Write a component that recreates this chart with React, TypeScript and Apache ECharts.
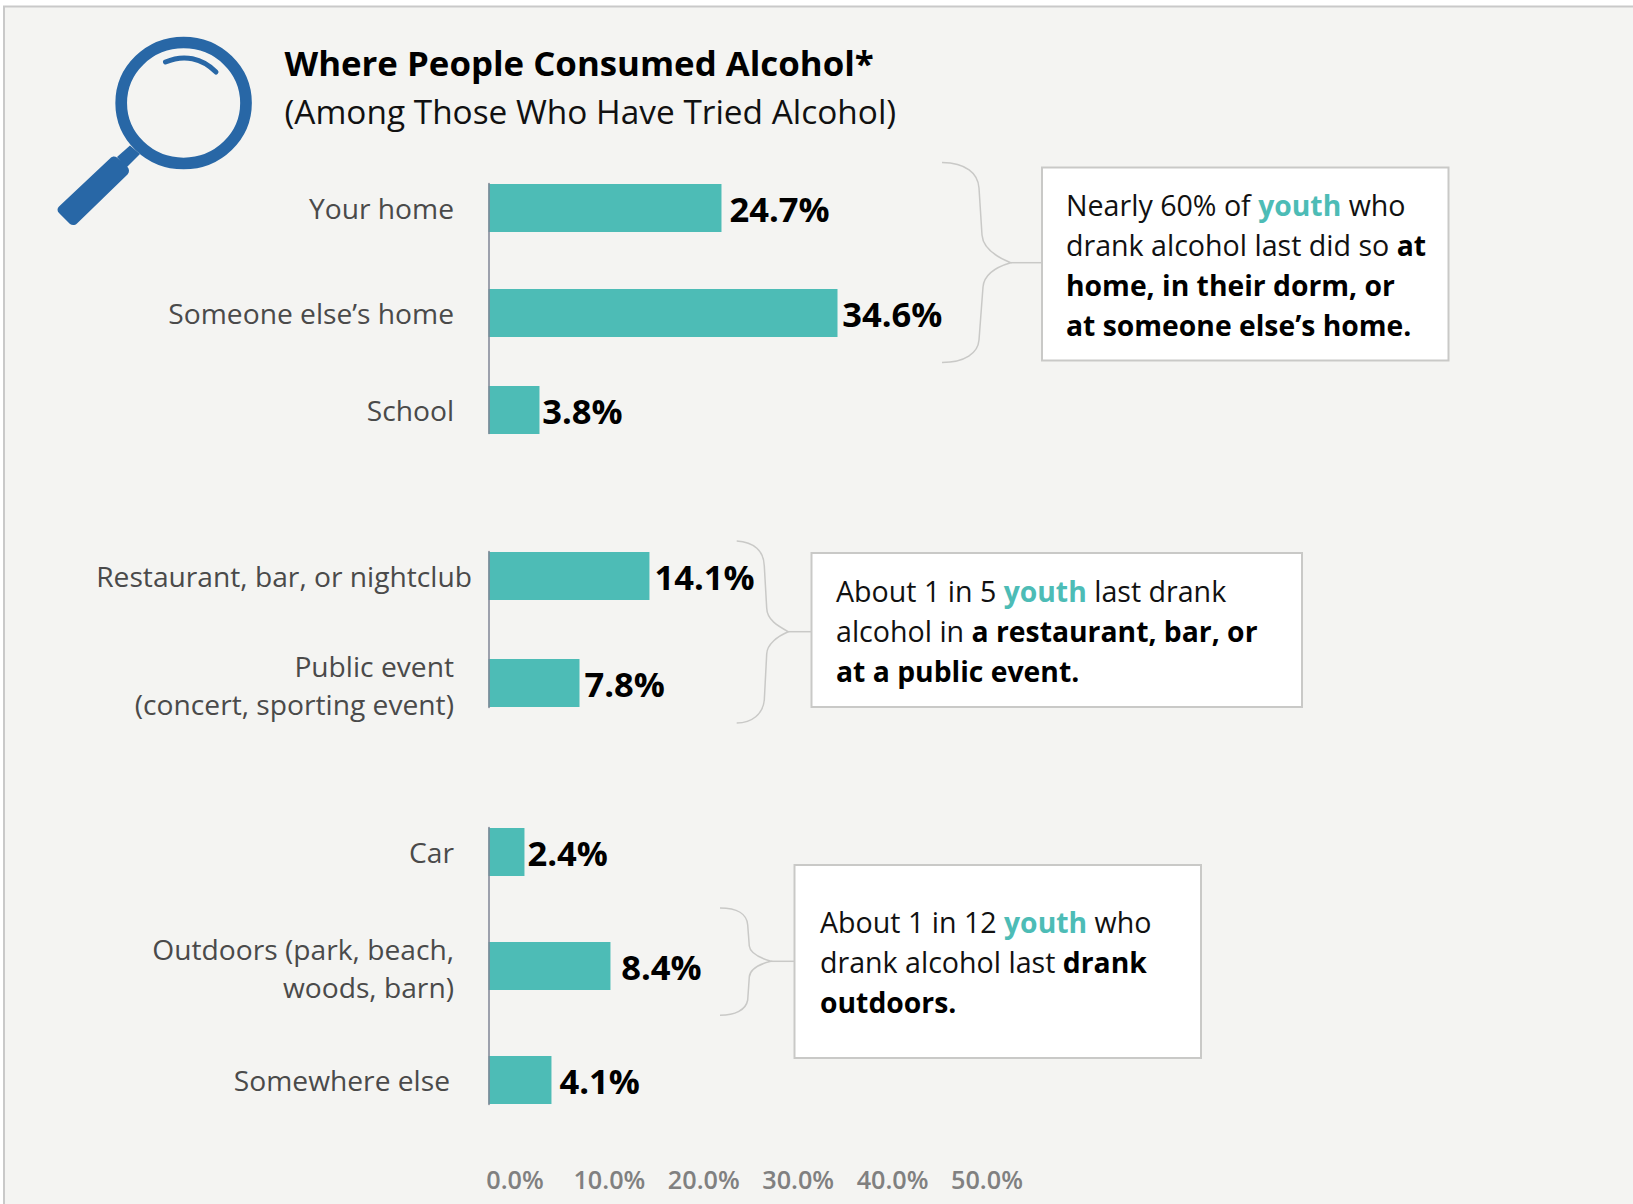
import React, { useEffect, useRef } from "react";
import * as echarts from "echarts";

// ---------- Data ----------
const groupOneCategories = ["Your home", "Someone else\u2019s home", "School"];
const groupTwoCategories = ["Restaurant, bar, or nightclub", "Public event\n(concert, sporting event)"];
const groupThreeCategories = ["Car", "Outdoors (park, beach,\nwoods, barn)", "Somewhere else"];

// The values as printed next to the bars.
const groupOnePrinted = ["24.7%", "34.6%", "3.8%"];
const groupTwoPrinted = ["14.1%", "7.8%"];
const groupThreePrinted = ["2.4%", "8.4%", "4.1%"];

// The bars of the reference are not drawn to scale with their printed values
// (only "24.7%" sits where the axis says). These are the lengths actually drawn,
// read off the picture in axis units, so the marks keep the reference's shape.
const groupOneDrawn = [24.68, 36.97, 5.4];
const groupTwoDrawn = [17.05, 9.64];
const groupThreeDrawn = [3.81, 12.92, 6.67];

const tickLabels = ["0.0%", "10.0%", "20.0%", "30.0%", "40.0%", "50.0%"];

// ---------- Layout ----------
const FONT = "'Open Sans', 'Noto Sans', sans-serif";
const TEAL = "#4dbcb6";
const BLUE = "#2867a6";
const LINE = "#c9c9c7";

// A category axis spaces its rows evenly and the reference's rows are not even,
// so each axis has one band per pixel and a row sits on a chosen band.
const panels = [
  { top: 183.5, bands: 250, rows: [24, 129, 226], gaps: [8, 4.7, 2.7], names: groupOneCategories, printed: groupOnePrinted, drawn: groupOneDrawn },
  { top: 551.5, bands: 156, rows: [24, 131], gaps: [5, 5], names: groupTwoCategories, printed: groupTwoPrinted, drawn: groupTwoDrawn },
  { top: 827.5, bands: 277, rows: [24, 138, 252], gaps: [3, 10.7, 8], names: groupThreeCategories, printed: groupThreePrinted, drawn: groupThreeDrawn },
];

const labelStyleFor = (name: string) =>
  name.startsWith("Restaurant") ? "w" : name.startsWith("Somewhere") ? "s" : "n";

echarts.graphic.registerShape("brace1", echarts.graphic.extendPath(
  "M942 162.5C966 163 978 173 979 188L982 235C983 249 999 258 1010.7 262.7C996 267 984 275 983 287L979 340C978 353 965 362.5 942 362.5", {}));
echarts.graphic.registerShape("brace2", echarts.graphic.extendPath(
  "M736.7 541C754 542 764 551 764.3 566L766.7 608C767 620 778 626 788.3 631.7C778 636 767 644 766.7 654L764.3 700C763 714 752 723 736.7 723", {}));
echarts.graphic.registerShape("brace3", echarts.graphic.extendPath(
  "M720 908C737 908 747 914 747.7 925L749.3 946C750 953 760 958 771 961.3C760 964 750 969 749.3 977L747.7 1000C746 1010 735 1015.3 720 1015.3", {}));
echarts.graphic.registerShape("glassHandle", echarts.graphic.extendPath(
  "M59 206.5L110.5 158C112.5 156 115 156 117 157.5L127.5 167C129.5 169 129.5 172.5 127.5 174.5L77 223.5C75 225.5 72 225.5 70 224L59 213C57 211 57 208.5 59 206.5Z", {}));
echarts.graphic.registerShape("glassNeck", echarts.graphic.extendPath(
  "M130 145.5L140 154L126 168L117 157Z", {}));
echarts.graphic.registerShape("glassGleam", echarts.graphic.extendPath(
  "M165.5 62C184 54 202 58 216 72", {}));

const rich = {
  n: { fontFamily: FONT, fontSize: 28.6, fill: "#111", lineHeight: 40 },
  b: { fontFamily: FONT, fontSize: 28.3, fill: "#000", fontWeight: "bold", lineHeight: 40 },
  t: { fontFamily: FONT, fontSize: 28.3, fill: TEAL, fontWeight: "bold", lineHeight: 40 },
};

const calloutOne = "{n|Nearly 60% of }{t|youth}{n| who}\n{n|drank alcohol last did so }{b|at}\n{b|home, in their dorm, or}\n{b|at someone else\u2019s home.}";
const calloutTwo = "{n|About 1 in 5 }{t|youth}{n| last drank}\n{n|alcohol in }{b|a restaurant, bar, or}\n{b|at a public event.}";
const calloutThree = "{n|About 1 in 12 }{t|youth}{n| who}\n{n|drank alcohol last }{b|drank}\n{b|outdoors.}";

const callout = (x: number, y: number, w: number, h: number, tx: number, ty: number, text: string) => [
  { type: "rect", z: 1, shape: { x, y, width: w, height: h }, style: { fill: "#fff", stroke: LINE, lineWidth: 2 } },
  { type: "text", z: 2, style: { x: tx, y: ty, text, rich, verticalAlign: "middle", align: "left" } },
];

const brace = (type: string, tipX: number, tipY: number, boxX: number) => [
  { type, z: 1, style: { fill: "none", stroke: LINE, lineWidth: 1.5 } },
  { type: "line", z: 1, shape: { x1: tipX, y1: tipY, x2: boxX, y2: tipY }, style: { stroke: LINE, lineWidth: 1.5 } },
];

function buildOption() {
  const grid = panels.map((p) => ({ left: 488.5, width: 472, top: p.top, height: p.bands }));
  const xAxis = panels.map((_, i) => ({
    type: "value",
    gridIndex: i,
    min: 0,
    max: 50,
    interval: 10,
    show: i === panels.length - 1,
    axisLine: { show: false },
    axisTick: { show: false },
    splitLine: { show: false },
    axisLabel: {
      margin: 61.5,
      padding: [0, 0, 0, 53],
      color: "#808080",
      fontFamily: FONT,
      fontWeight: 600,
      fontSize: 25.2,
      formatter: (v: number) => tickLabels[v / 10],
    },
  }));
  const yAxis = panels.map((p, i) => {
    const bands = Array.from({ length: p.bands }, () => "");
    p.rows.forEach((band, r) => { bands[band] = p.names[r]; });
    const catText = { fontFamily: FONT, fontSize: 28.2, color: "#4a4a4a", lineHeight: 38 };
    return {
      type: "category",
      gridIndex: i,
      inverse: true,
      data: bands,
      z: 3,
      axisLine: { show: true, lineStyle: { color: "#7f8595", width: 1.5 } },
      axisTick: { show: false },
      axisLabel: {
        interval: (_: number, v: string) => v !== "",
        margin: 16.5,
        align: "right",
        formatter: (v: string) => {
          const lines = v.split("\n").map((l) => `{${labelStyleFor(v)}|${l}}`);
          // The reference's two-line labels sit slightly below their bars' centres.
          return (lines.length > 1 ? ["{e| }"] : []).concat(lines).join("\n");
        },
        rich: {
          e: { fontFamily: FONT, fontSize: 2, lineHeight: 3 },
          n: { ...catText, padding: [0, 18, 0, 0] },
          w: catText,
          s: { ...catText, padding: [0, 22, 0, 0] },
        },
      },
    };
  });
  const series = panels.map((p, i) => {
    const values: any[] = Array.from({ length: p.bands }, () => null);
    p.rows.forEach((band, r) => {
      values[band] = {
        value: p.drawn[r],
        label: { distance: p.gaps[r], formatter: p.printed[r] },
      };
    });
    return {
      type: "bar",
      xAxisIndex: i,
      yAxisIndex: i,
      barWidth: 48,
      clip: false,
      itemStyle: { color: TEAL },
      label: {
        show: true,
        position: "right",
        color: "#000",
        fontFamily: FONT,
        fontWeight: "bold",
        fontSize: 34.5,
      },
      data: values,
    };
  });
  const graphic = [
    { type: "rect", z: -1, shape: { x: 4, y: 6.5, width: 1700, height: 1300 }, style: { fill: "#f4f4f2", stroke: "#c9c9c9", lineWidth: 2 } },
    { type: "ellipse", z: 1, shape: { cx: 183.6, cy: 103, rx: 62.4, ry: 60.5 }, style: { fill: "none", stroke: BLUE, lineWidth: 11.7 } },
    { type: "glassNeck", z: 1, style: { fill: BLUE } },
    { type: "glassHandle", z: 1, style: { fill: BLUE } },
    { type: "glassGleam", z: 1, style: { fill: "none", stroke: BLUE, lineWidth: 5, lineCap: "round" } },
    { type: "text", z: 2, style: { x: 284.5, y: 62.5, text: "Where People Consumed Alcohol*", fontFamily: FONT, fontWeight: "bold", fontSize: 34.8, fill: "#000", verticalAlign: "middle" } },
    { type: "text", z: 2, style: { x: 284.5, y: 111, text: "(Among Those Who Have Tried Alcohol)", fontFamily: FONT, fontSize: 33.4, fill: "#111", verticalAlign: "middle" } },
    ...brace("brace1", 1010.7, 262.7, 1042),
    ...brace("brace2", 788.3, 631.7, 811),
    ...brace("brace3", 771, 961.3, 794),
    ...callout(1042, 167.5, 406.5, 193, 1066, 264.5, calloutOne),
    ...callout(811.5, 553, 490.5, 154, 836, 630.5, calloutTwo),
    ...callout(794.5, 865, 406.5, 193, 820, 961.5, calloutThree),
  ];
  return { animation: false, backgroundColor: "#fff", tooltip: { show: false }, grid, xAxis, yAxis, series, graphic };
}

export default function App() {
  const ref = useRef<HTMLDivElement>(null);
  useEffect(() => {
    const chart = echarts.init(ref.current!, undefined, { renderer: "svg" });
    chart.setOption(buildOption() as any);
    return () => chart.dispose();
  }, []);
  return <div ref={ref} style={{ position: "absolute", left: 0, top: 0, width: 1633, height: 1204 }} />;
}
